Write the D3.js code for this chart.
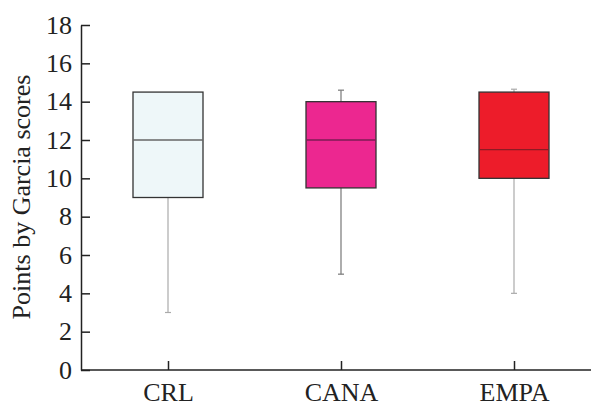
<!DOCTYPE html>
<html><head><meta charset="utf-8">
<script src="https://cdn.jsdelivr.net/npm/d3@7"></script>
<style>body{margin:0;background:#fff}svg{display:block}</style>
</head><body><svg id="c" width="591" height="405"></svg>
<script>
const categories = ["CRL", "CANA", "EMPA"];
const whiskerLow = [3, 5, 4];
const q1 = [9, 9.5, 10];
const median = [12, 12, 11.5];
const q3 = [14.5, 14, 14.5];
const whiskerHigh = [14.5, 14.6, 14.65];
const fills = ["#eef7f9", "#ec2790", "#ed1c2a"];
const medianColors = ["#666", "#7d1d55", "#8c1b24"];
const whiskerColors = ["#aaa", "#777", "#aaa"];
const yTicks = [0, 2, 4, 6, 8, 10, 12, 14, 16, 18];

(function () {
const svg = d3.select("#c");
const mLeft = 81, mRight = 591, mTop = 25, mBottom = 370;
const font = "'Liberation Serif', 'Times New Roman', serif";
const fs = 26;

const x = d3.scalePoint().domain(categories).range([168, 514]);
const y = d3.scaleLinear().domain([0, 18]).range([mBottom, mTop]);
const bw = 70;

const yAxis = svg.append("g").attr("transform", `translate(${mLeft},0)`)
  .call(d3.axisLeft(y).tickValues(yTicks).tickSizeInner(-9).tickSizeOuter(0).tickPadding(9));
yAxis.select(".domain").attr("stroke", "#222").attr("stroke-width", 1.5);
yAxis.selectAll(".tick line").attr("stroke", "#222").attr("stroke-width", 1.5);
yAxis.selectAll(".tick text").attr("font-family", font).attr("font-size", fs).attr("fill", "#222");

svg.append("line").attr("x1", mLeft).attr("x2", mRight).attr("y1", mBottom).attr("y2", mBottom)
  .attr("stroke", "#222").attr("stroke-width", 1.5);
const xAxis = svg.append("g").attr("transform", `translate(0,${mBottom})`)
  .call(d3.axisBottom(x).tickSizeInner(-9).tickSizeOuter(0).tickPadding(13));
xAxis.select(".domain").remove();
xAxis.selectAll(".tick line").attr("stroke", "#222").attr("stroke-width", 1.5);
xAxis.selectAll(".tick text").attr("font-family", font).attr("font-size", fs).attr("fill", "#222");

svg.append("text").attr("transform", `translate(30,197) rotate(-90)`)
  .attr("text-anchor", "middle").attr("font-family", font).attr("font-size", fs).attr("fill", "#222")
  .text("Points by Garcia scores");

categories.forEach((c, i) => {
  const cx = x(c);
  const g = svg.append("g");
  g.append("line").attr("x1", cx).attr("x2", cx).attr("y1", y(q1[i])).attr("y2", y(whiskerLow[i]))
    .attr("stroke", whiskerColors[i]).attr("stroke-width", 1.2);
  g.append("line").attr("x1", cx - 3).attr("x2", cx + 3).attr("y1", y(whiskerLow[i])).attr("y2", y(whiskerLow[i]))
    .attr("stroke", whiskerColors[i]).attr("stroke-width", 1.2);
  if (whiskerHigh[i] > q3[i]) {
    g.append("line").attr("x1", cx).attr("x2", cx).attr("y1", y(q3[i])).attr("y2", y(whiskerHigh[i]))
      .attr("stroke", whiskerColors[i]).attr("stroke-width", 1.2);
    g.append("line").attr("x1", cx - 3).attr("x2", cx + 3).attr("y1", y(whiskerHigh[i])).attr("y2", y(whiskerHigh[i]))
      .attr("stroke", whiskerColors[i]).attr("stroke-width", 1.2);
  }
  g.append("rect").attr("x", cx - bw / 2).attr("y", y(q3[i])).attr("width", bw)
    .attr("height", y(q1[i]) - y(q3[i])).attr("fill", fills[i]).attr("stroke", "#333").attr("stroke-width", 1.3);
  g.append("line").attr("x1", cx - bw / 2).attr("x2", cx + bw / 2).attr("y1", y(median[i])).attr("y2", y(median[i]))
    .attr("stroke", medianColors[i]).attr("stroke-width", 1.3);
});
})();
</script></body></html>
